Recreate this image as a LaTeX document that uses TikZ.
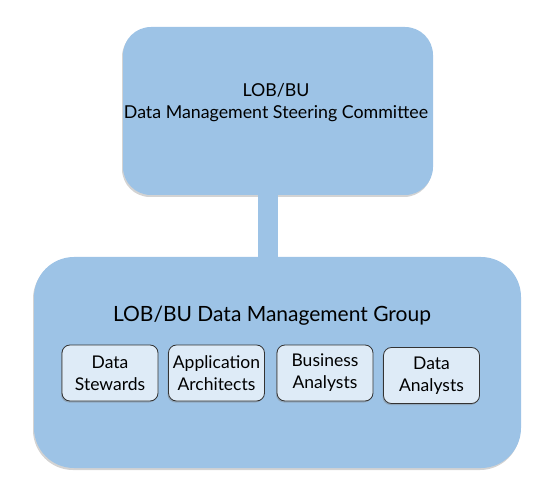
\documentclass[tikz,border=0pt]{standalone}
\usepackage{fontspec}
\setmainfont{Lato}
\usetikzlibrary{shadows,positioning}
\definecolor{mainblue}{HTML}{9DC3E6}
\definecolor{paleblue}{HTML}{DEEBF7}
\definecolor{edgegrey}{HTML}{333333}
\tikzset{
  bigbox/.style={fill=mainblue, draw=none, minimum width=#1, drop shadow={opacity=0.35, shadow xshift=-1pt, shadow yshift=-2pt}},
  rolebox/.style={fill=paleblue, draw=edgegrey, line width=0.8pt, rounded corners=8pt, minimum width=96pt, minimum height=56pt, align=center, inner sep=0pt, font=\fontsize{17.5}{22}\selectfont, drop shadow={opacity=0.4, shadow xshift=-1pt, shadow yshift=-1.5pt}},
  link/.style={draw=mainblue, line width=20pt}
}
\begin{document}
\begin{tikzpicture}[x=1pt,y=1pt]
\useasboundingbox (0,0) rectangle (549,-489);
\node[bigbox=310pt, minimum height=168pt, rounded corners=28pt, inner sep=0pt] (top) at (278,-111) {};
\node[bigbox=487pt, minimum height=211pt, rounded corners=40pt, inner sep=0pt] (group) at (277.5,-362.5) {};
\draw[link] ([xshift=-10pt,yshift=2pt]top.south) -- ([xshift=-10pt,yshift=-2pt]top.south |- group.north);
\node[align=center, font=\fontsize{17.8}{22}\selectfont] (toptext) at (276,-103) {LOB/BU\\Data Management Steering Committee};
\node[font=\fontsize{21}{25}\selectfont] (title) at (272,-316) {LOB/BU Data Management Group};
\node[rolebox] (ds) at (110,-373) {Data\\Stewards};
\node[rolebox] (aa) at (216.5,-373) {Application\\Architects};
\node[rolebox] (ba) at (325,-373) {Business\\Analysts};
\node[rolebox] (da) at (431.5,-375.5) {Data\\Analysts};
\end{tikzpicture}
\end{document}
